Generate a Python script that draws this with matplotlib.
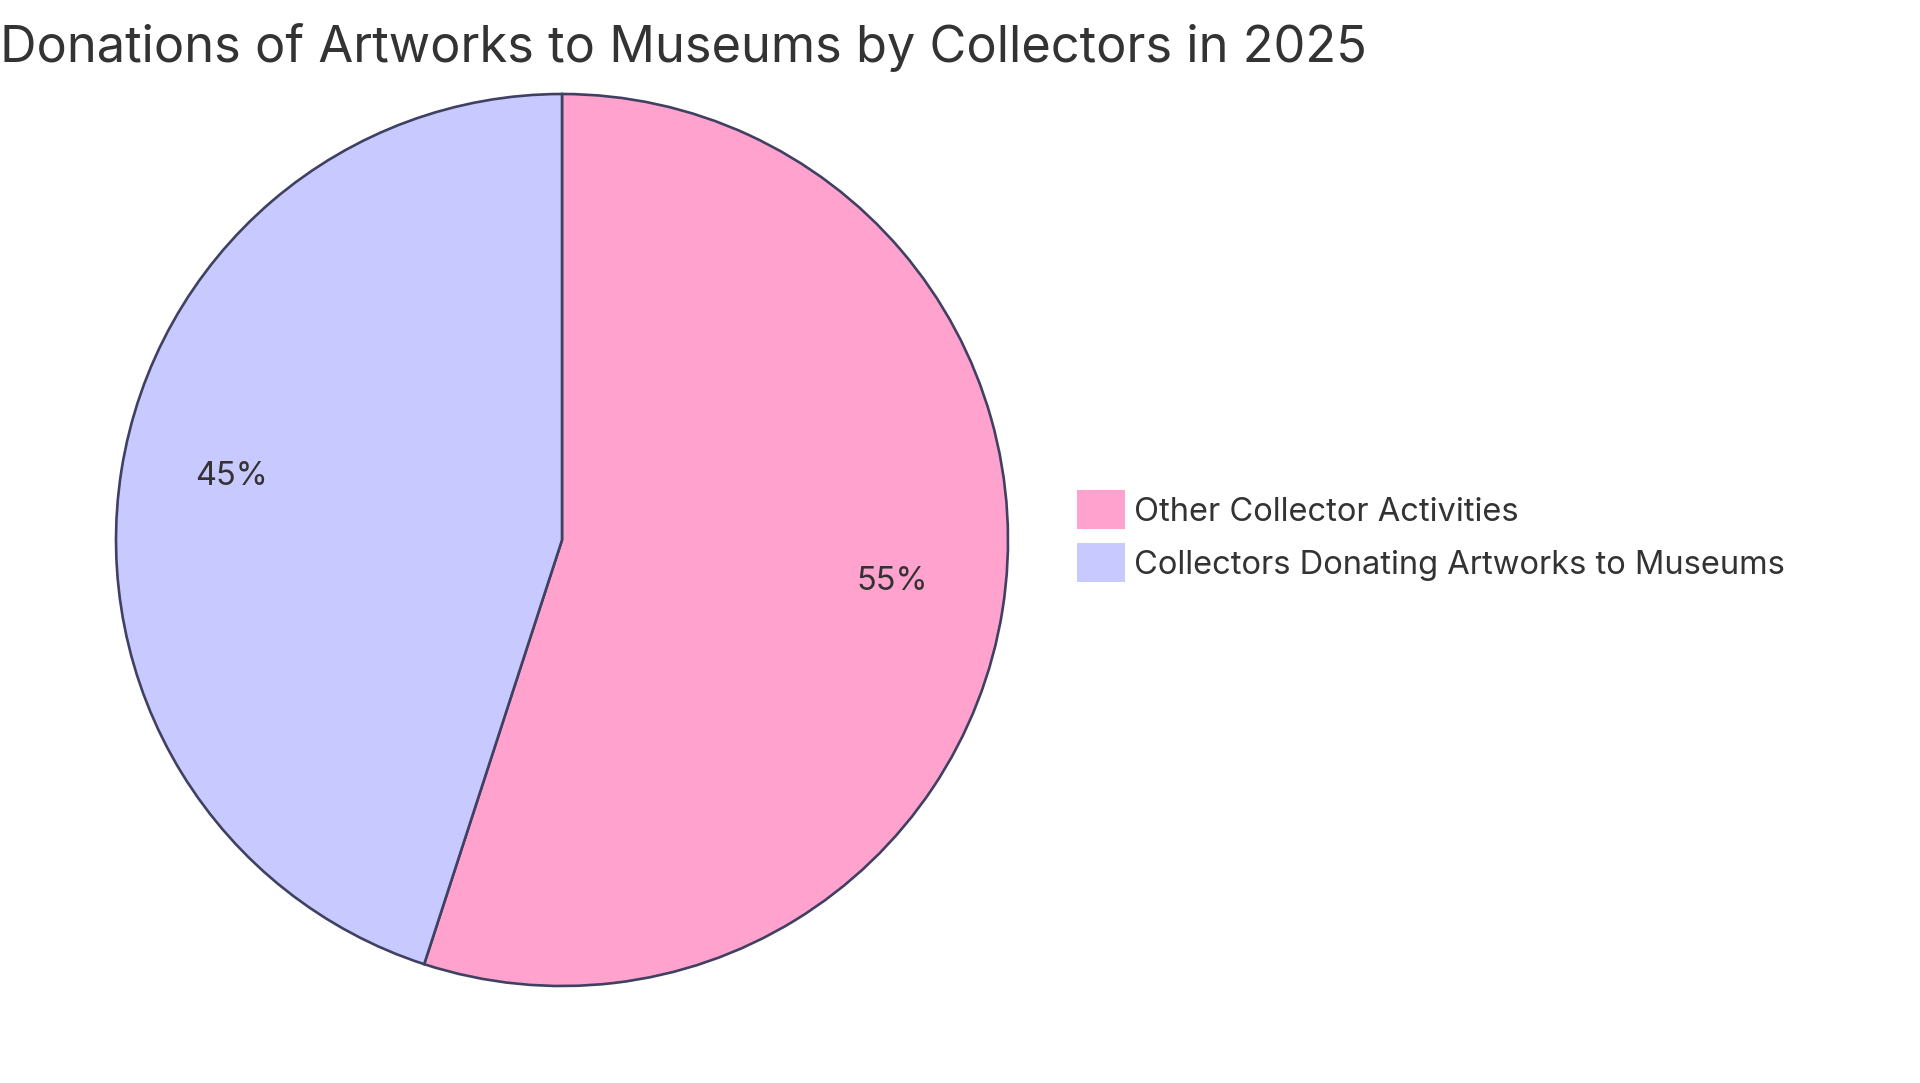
import matplotlib
matplotlib.use("Agg")
import matplotlib.pyplot as plt
from matplotlib.patches import Patch

# Данные диаграммы
labels = ["Other Collector Activities", "Collectors Donating Artworks to Museums"]
shares = [55, 45]
colors = ["#FFA3CE", "#C8CAFF"]

TEXT_COLOR = "#333333"
EDGE_COLOR = "#404062"

plt.rcParams["font.family"] = ["Inter", "DejaVu Sans"]

fig = plt.figure(figsize=(19.2, 10.83), dpi=100)

# pie: centre ~ (563, 540) px, radius ~446 px
W, H = 1920, 1083
cx, cy, r = 562, 540, 446
ax = fig.add_axes([(cx - r) / W, (H - cy - r) / H, 2 * r / W, 2 * r / H])

wedges, texts, autotexts = ax.pie(
    shares,
    colors=colors,
    startangle=90,
    counterclock=False,
    autopct="%1.0f%%",
    pctdistance=0.75,
    wedgeprops={"edgecolor": EDGE_COLOR, "linewidth": 1.9},
    textprops={"fontsize": 23.5, "color": TEXT_COLOR},
)
# подписи чуть выше центра сектора
for t in autotexts:
    x, y = t.get_position()
    t.set_position((x, y + 11 / r))

ax.set_xlim(-1, 1)
ax.set_ylim(-1, 1)
ax.set_aspect("equal")
ax.axis("off")

fig.text(0.0, 1 - 47 / H, "Donations of Artworks to Museums by Collectors in 2025",
         fontsize=36.4, color=TEXT_COLOR, ha="left", va="center")

handles = [Patch(facecolor=c, edgecolor="none") for c in colors]
fig.legend(
    handles, labels,
    loc="upper left",
    bbox_to_anchor=(1061 / W, 1 - 474 / H),
    frameon=False,
    fontsize=23.5,
    labelcolor=TEXT_COLOR,
    handlelength=1.45,
    handleheight=1.45,
    handletextpad=0.3,
    labelspacing=0.44,
    borderpad=0,
)

fig.savefig("out.png", dpi=100, facecolor="white")
plt.close(fig)
